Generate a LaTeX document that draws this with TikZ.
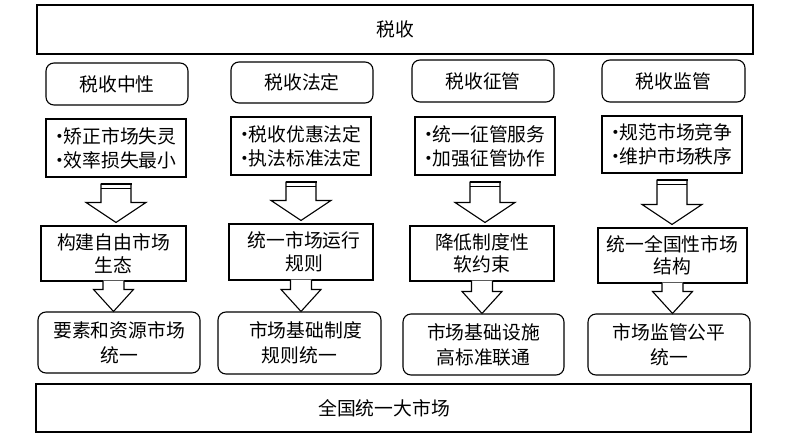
\documentclass[tikz,border=0pt]{standalone}
\usepackage{fontspec}
\setmainfont{Noto Sans CJK SC}
\usetikzlibrary{calc}
\tikzset{
  box/.style={draw, line width=1.1pt, inner sep=0pt, align=center, fill=white,
    font=\fontsize{18.8}{24}\selectfont},
  rbox/.style={box, rounded corners=8pt},
  arr/.style={draw, line width=1.1pt, fill=white, line join=miter},
}
\newcommand\bul{\makebox[8pt][c]{·}}
\newcommand\arrowA[2]{%
  \coordinate (aT) at ($(#1.south)+(0,6.5)$);
  \coordinate (aP) at ($(#1.south |- #2.north)+(0,-3)$);
  \draw[arr] ($(aT)+(-15,0)$) -- ($(aP)+(-15,-20)$) -- ($(aP)+(-30,-20)$) -- (aP)
    -- ($(aP)+(30,-20)$) -- ($(aP)+(15,-20)$) -- ($(aT)+(15,0)$) -- cycle;
  \draw[line width=2.6pt] ($(aT)+(-15.5,0)$) -- ($(aT)+(15.5,0)$);
  \draw[line width=0.9pt] ($(aT)+(-15,4.5)$) -- ($(aT)+(15,4.5)$);
}
\newcommand\arrowB[2]{%
  \coordinate (aT) at (#1.south);
  \coordinate (aP) at (#1.south |- #2.north);
  \fill[white] ($(aT)+(-10.5,-1)$) -- ($(aP)+(-10.5,-22)$) -- ($(aP)+(-20,-22)$) -- (aP)
    -- ($(aP)+(20,-22)$) -- ($(aP)+(10.5,-22)$) -- ($(aT)+(10.5,-1)$) -- cycle;
  \draw[line width=1.1pt, line join=miter] ($(aT)+(-10.5,-0.55)$) -- ($(aP)+(-10.5,-22)$)
    -- ($(aP)+(-20,-22)$) -- (aP) -- ($(aP)+(20,-22)$) -- ($(aP)+(10.5,-22)$)
    -- ($(aT)+(10.5,-0.55)$);
}
\begin{document}
\begin{tikzpicture}[x=1pt,y=-1pt]
\useasboundingbox (0,0) rectangle (802,436);
\fill[white] (0,0) rectangle (802,436);

% top and bottom
\node[box, minimum width=716pt, minimum height=49pt] (top) at (395,29.5) {税收};
\node[box, minimum width=715pt, minimum height=48pt] (bot) at (393.5,408) {\hspace*{-19pt}全国统一大市场};

% title boxes
\node[rbox, minimum width=142pt, minimum height=42pt] (t1) at (117,84) {税收中性};
\node[rbox, minimum width=142pt, minimum height=41pt] (t2) at (302,82.5) {税收法定};
\node[rbox, minimum width=142pt, minimum height=42pt] (t3) at (483,81) {税收征管};
\node[rbox, minimum width=143pt, minimum height=42pt] (t4) at (673.5,81) {税收监管};

% bullet boxes
\node[box, minimum width=140pt, minimum height=58pt, align=left] (b1) at (116,148) {\bul 矫正市场失灵\\\bul 效率损失最小};
\node[box, minimum width=140pt, minimum height=58pt, align=left] (b2) at (301,146) {\bul 税收优惠法定\\\bul 执法标准法定};
\node[box, minimum width=140pt, minimum height=58pt, align=left] (b3) at (485,146) {\bul 统一征管服务\\\bul 加强征管协作};
\node[box, minimum width=140pt, minimum height=57pt, align=left] (b4) at (672,144.5) {\bul 规范市场竞争\\\bul 维护市场秩序};

% middle rectangles
\node[box, minimum width=145pt, minimum height=55pt, font=\fontsize{18.8}{22.5}\selectfont] (r1) at (113.5,253.5) {构建自由市场\\生态};
\node[box, minimum width=144pt, minimum height=56pt, font=\fontsize{18.8}{22.5}\selectfont] (r2) at (301,252) {\hspace*{6pt}统一市场运行\\\hspace*{6pt}规则};
\node[box, minimum width=144pt, minimum height=55pt, font=\fontsize{18.8}{22.5}\selectfont] (r3) at (482,253.5) {降低制度性\\软约束};
\node[box, minimum width=149pt, minimum height=55pt, font=\fontsize{18.8}{22.5}\selectfont] (r4) at (672.5,255.5) {统一全国性市场\\结构};

% result boxes
\node[rbox, minimum width=162pt, minimum height=61pt, font=\fontsize{18.8}{25}\selectfont] (m1) at (119,342.5) {要素和资源市场\\统一};
\node[rbox, minimum width=163pt, minimum height=62pt, font=\fontsize{18.8}{25}\selectfont] (m2) at (299.5,343) {\hspace*{12pt}市场基础制度\\规则统一};
\node[rbox, minimum width=161pt, minimum height=61pt, font=\fontsize{18.8}{25}\selectfont] (m3) at (483.5,344.5) {市场基础设施\\高标准联通};
\node[rbox, minimum width=162pt, minimum height=61pt, font=\fontsize{18.8}{25}\selectfont] (m4) at (669,344.5) {市场监管公平\\统一};

% arrows
\arrowA{b1}{r1}
\arrowA{b2}{r2}
\arrowA{b3}{r3}
\arrowA{b4}{r4}
\arrowB{r1}{m1}
\arrowB{r2}{m2}
\arrowB{r3}{m3}
\arrowB{r4}{m4}
\end{tikzpicture}
\end{document}
